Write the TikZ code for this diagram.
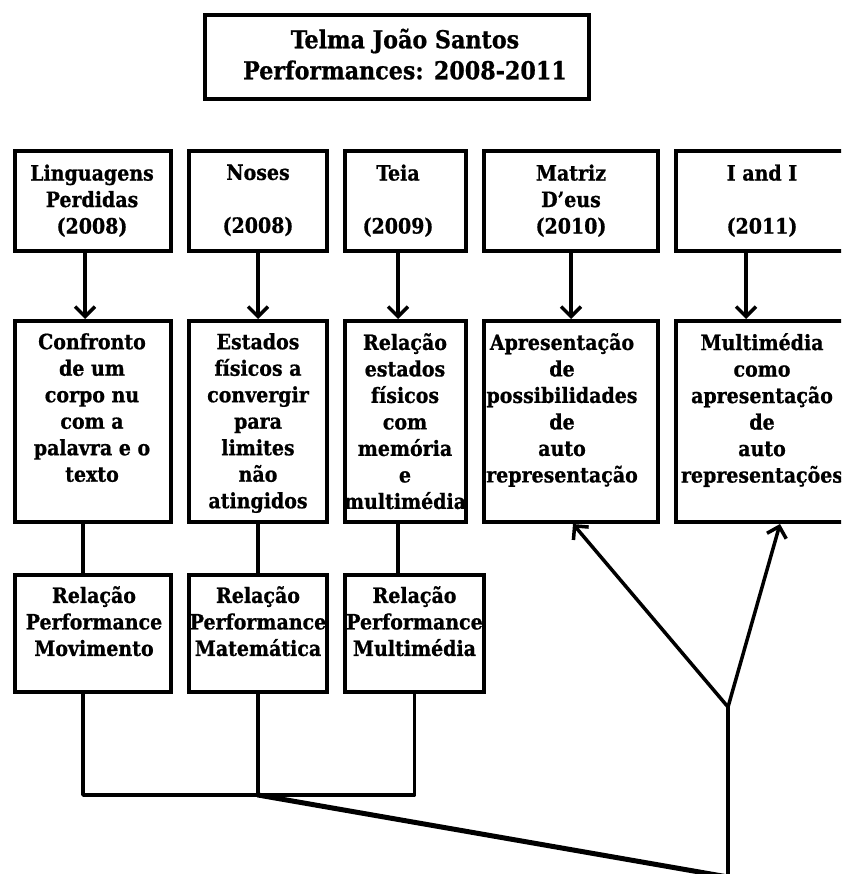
\documentclass[tikz,border=0pt]{standalone}
\usepackage{fontspec}
\setmainfont{DejaVu Serif Condensed}[BoldFeatures={FakeBold=0.8}]
\usetikzlibrary{arrows.meta}
\begin{document}
\begin{tikzpicture}[x=1pt,y=-1pt,
  box/.style={draw, line width=4pt, rectangle, inner sep=0pt},
  lbl/.style={inner sep=0pt, align=center, anchor=north,
    font=\bfseries\fontsize{21.1}{26.5}\selectfont, execute at begin node=\strut},
  ttl/.style={inner sep=0pt, align=center, anchor=north,
    font=\bfseries\fontsize{24.7}{31}\selectfont, execute at begin node=\strut},
  link/.style={line width=3.5pt, line join=round},
  arr/.style={link, -{Straight Barb[length=10pt,width=20pt]}},
  diag/.style={line width=5pt, line cap=round}]
\useasboundingbox (0,0) rectangle (841,874);
\clip (0,0) rectangle (841,874);

% title
\node[box, minimum width=384, minimum height=84] (title) at (397,57) {};
\node[ttl] (titletext) at (405,28.5) {Telma João Santos\\Performances: 2008-2011};

% performances (top row)
\node[box, minimum width=156, minimum height=100] (t1) at (93,201) {};
\node[box, minimum width=138, minimum height=100] (t2) at (258,201) {};
\node[box, minimum width=121, minimum height=100] (t3) at (405.5,201) {};
\node[box, minimum width=174, minimum height=100] (t4) at (571,201) {};
\node[box, minimum width=194, minimum height=100] (t5) at (773,201) {};
\node[lbl] (t1l) at (92,164.3) {Linguagens\\Perdidas\\(2008)};
\node[lbl] (t2l) at (258,164.3) {Noses\\[26.5pt](2008)};
\node[lbl] (t3l) at (398,164.3) {Teia\\[26.5pt](2009)};
\node[lbl] (t4l) at (571,164.3) {Matriz\\D’eus\\(2010)};
\node[lbl] (t5l) at (762,164.3) {I and I\\[26.5pt](2011)};

% descriptions (middle row)
\node[box, minimum width=156, minimum height=201] (m1) at (93,421.5) {};
\node[box, minimum width=138, minimum height=201] (m2) at (258,421.5) {};
\node[box, minimum width=121, minimum height=201] (m3) at (405.5,421.5) {};
\node[box, minimum width=174, minimum height=201] (m4) at (571,421.5) {};
\node[box, minimum width=194, minimum height=201] (m5) at (773,421.5) {};
\node[lbl] (m1l) at (92,333) {Confronto\\de um\\corpo nu\\com a\\palavra e o\\texto};
\node[lbl] (m2l) at (258,333) {Estados\\físicos a\\convergir\\para\\limites\\não\\atingidos};
\node[lbl] (m3l) at (405,333) {Relação\\estados\\físicos\\com\\memória\\e\\multimédia};
\node[lbl] (m4l) at (562,333) {Apresentação\\de\\possibilidades\\de\\auto\\representação};
\node[lbl] (m5l) at (762,333) {Multimédia\\como\\apresentação\\de\\auto\\representações};

% relations (bottom row)
\node[box, minimum width=156, minimum height=117] (c1) at (93,633.5) {};
\node[box, minimum width=138, minimum height=117] (c2) at (258,633.5) {};
\node[box, minimum width=139, minimum height=117] (c3) at (414.5,633.5) {};
\node[lbl] (c1l) at (94,586) {Relação\\Performance\\Movimento};
\node[lbl] (c2l) at (258,586) {Relação\\Performance\\Matemática};
\node[lbl] (c3l) at (414.5,586) {Relação\\Performance\\Multimédia};

% arrows from performances to descriptions
\draw[arr] ([xshift=-8pt]t1.south) -- ([xshift=-8pt]m1.north);
\draw[arr] (t2.south) -- (m2.north);
\draw[arr] ([xshift=-7.5pt]t3.south) -- ([xshift=-7.5pt]m3.north);
\draw[arr] (t4.south) -- (m4.north);
\draw[arr] ([xshift=-27pt]t5.south) -- ([xshift=-27pt]m5.north);

% links from descriptions to relations
\draw[link] ([xshift=-10pt]m1.south) -- ([xshift=-10pt]c1.north);
\draw[link] (m2.south) -- (c2.north);
\draw[link] ([xshift=-7.5pt]m3.south) -- ([xshift=-16.5pt]c3.north);

% joining the relations
\coordinate (hub) at (258,795);
\coordinate (base) at (728,877);
\coordinate (fork) at (728,707);
\draw[link] ([xshift=-10pt]c1.south) |- (hub) -| (c3.south);
\draw[link] (c2.south) -- (hub);
\draw[diag] (hub) -- (base);
\draw[link] (base) -- (fork);
\draw[arr] (fork) -- ([xshift=2pt]m4.south);
\draw[arr] (fork) -- ([xshift=7pt]m5.south);
\end{tikzpicture}
\end{document}
